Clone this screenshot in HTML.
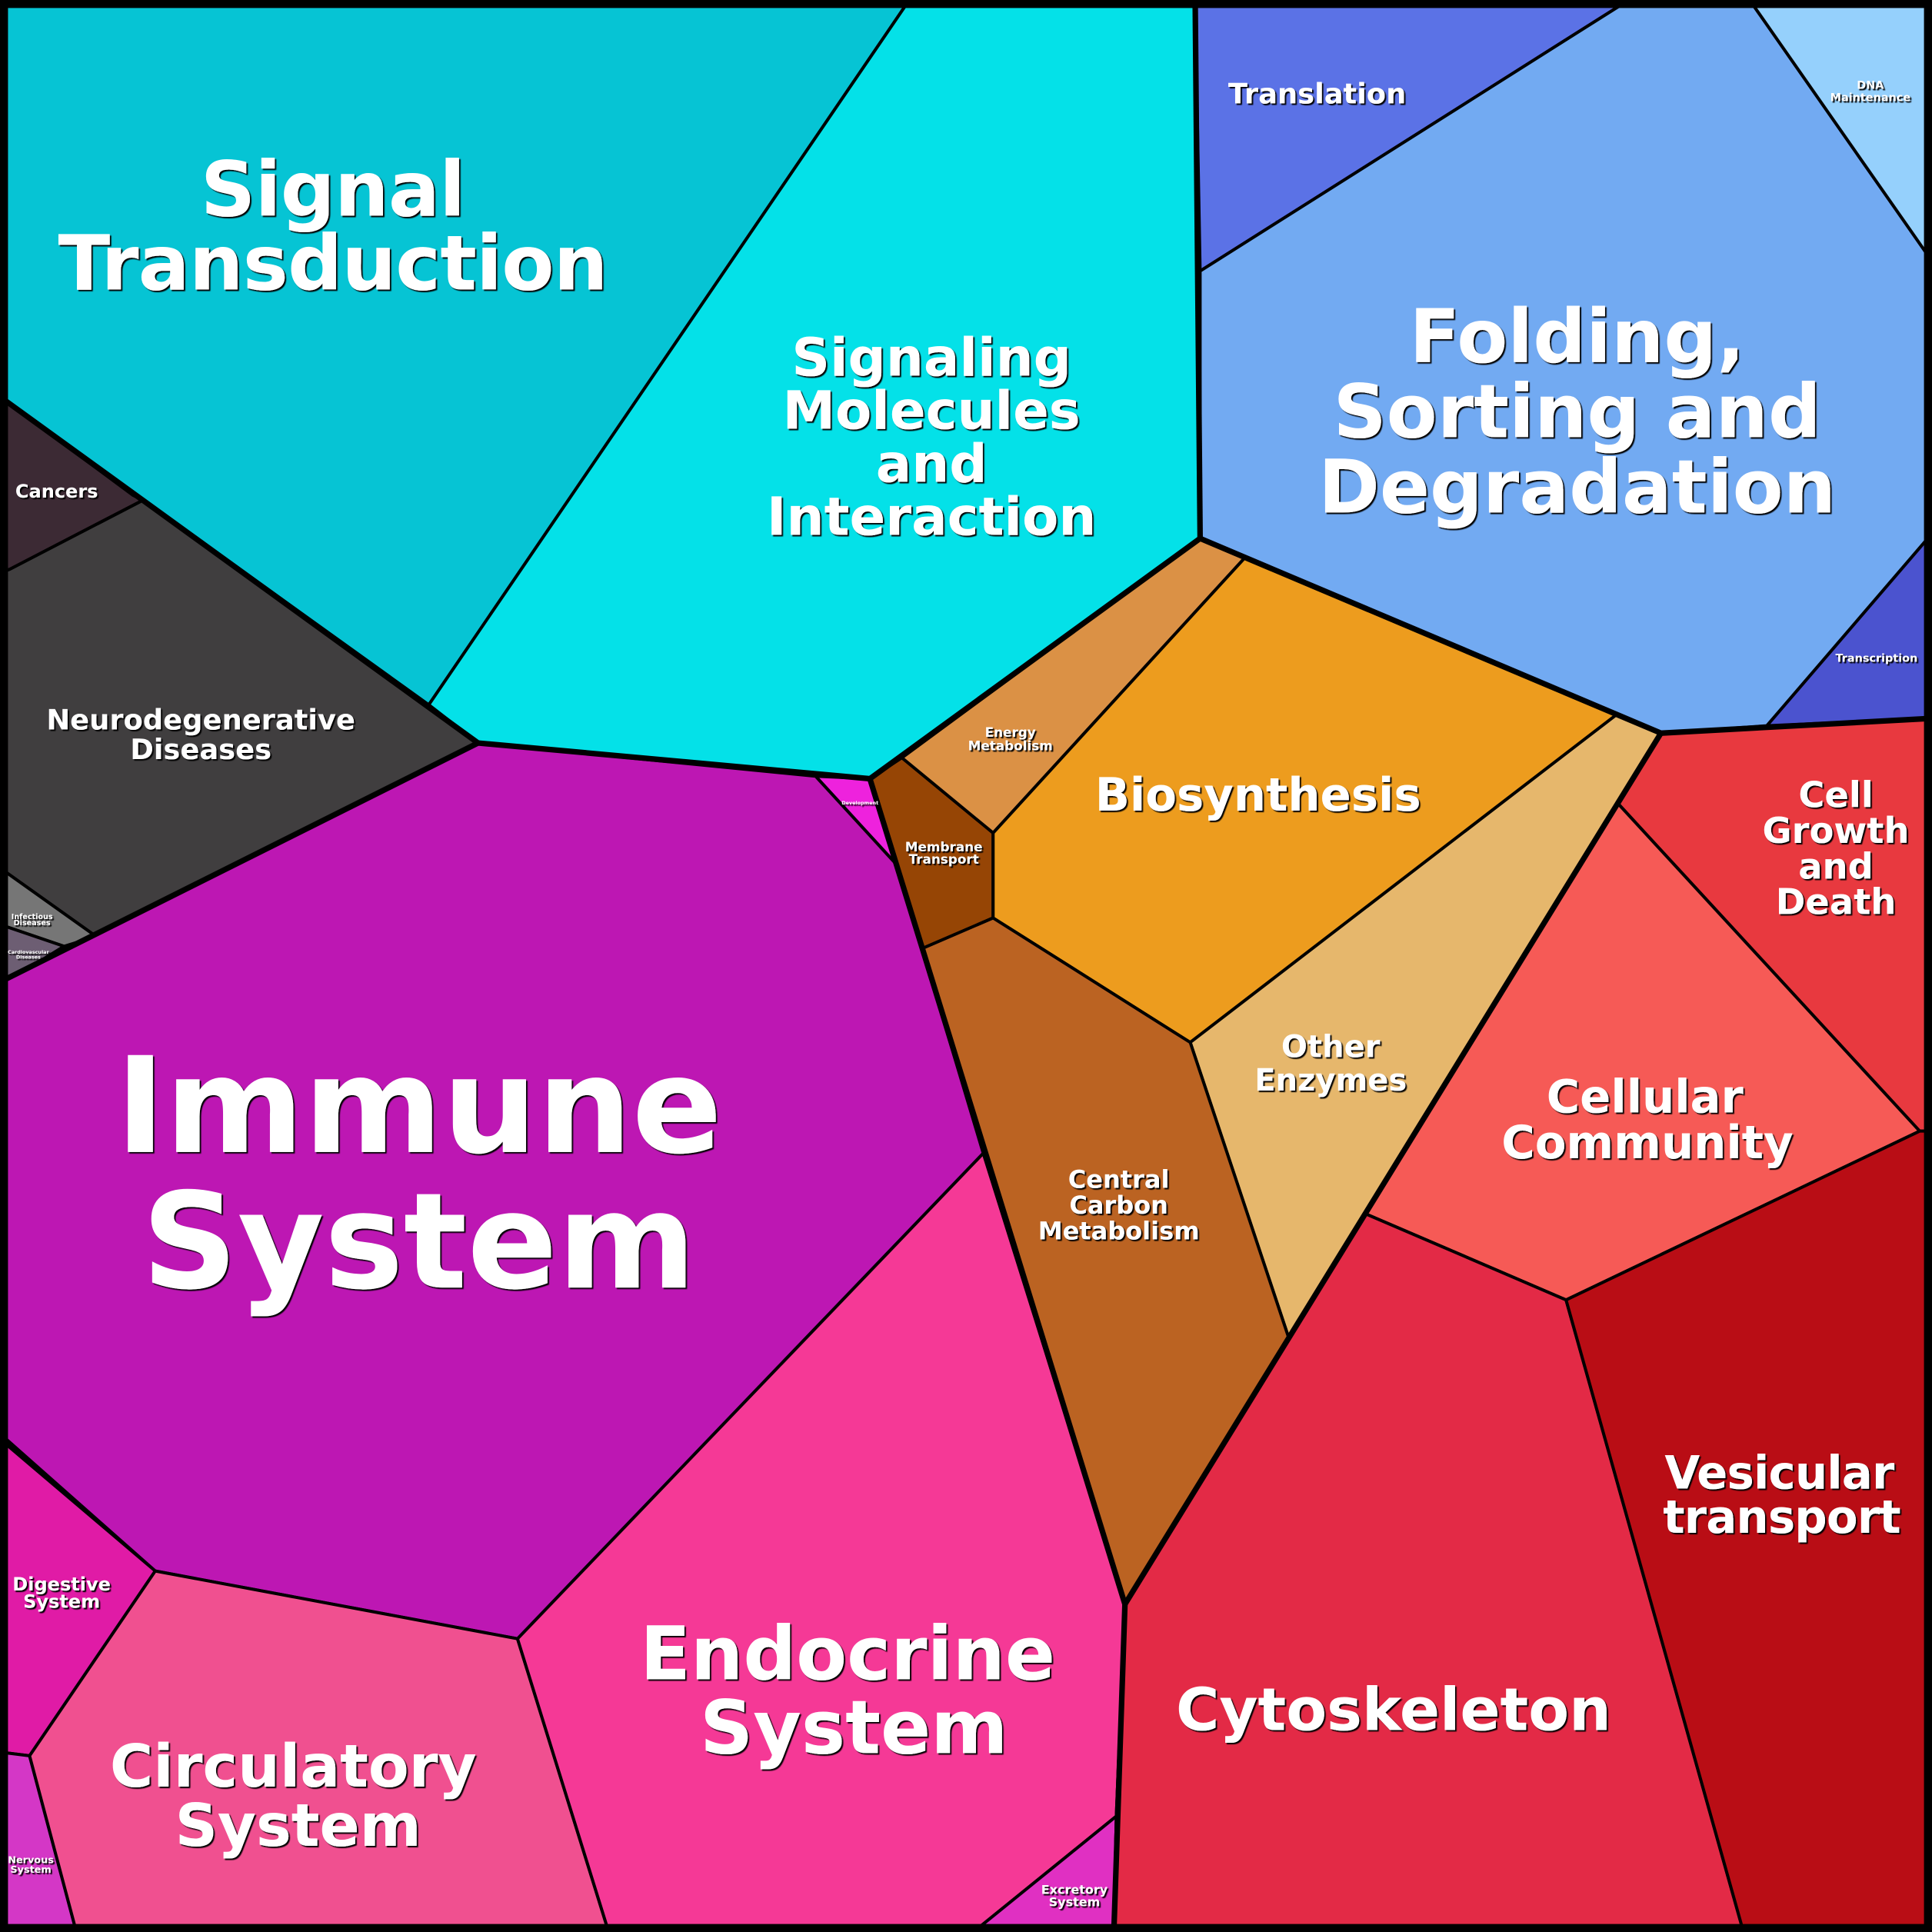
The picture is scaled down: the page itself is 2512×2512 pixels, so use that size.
<!DOCTYPE html>
<html><head><meta charset="utf-8"><style>
html,body{margin:0;padding:0;background:#000;}
svg{display:block;}
text{font-family:"DejaVu Sans","Liberation Sans",sans-serif;font-weight:bold;fill:#fff;text-anchor:middle;}
.s{filter:url(#sh);}
</style></head><body>
<svg width="2512" height="2512" viewBox="0 0 1568 1568" xmlns="http://www.w3.org/2000/svg">
<defs><filter id="sh" x="-10%" y="-10%" width="120%" height="130%"><feDropShadow dx="1.2" dy="1.2" stdDeviation="0.3" flood-color="#000" flood-opacity="1"/></filter></defs>
<g stroke="#000" stroke-width="2.5" stroke-linejoin="round">
<polygon fill="#06c4d4" points="0,0 738,0 348,572 0,322"/>
<polygon fill="#04e1e8" points="738,0 970,0 974,437 706,632 662,630 388,603 348,572"/>
<polygon fill="#3c2a34" points="0,322 108,402 116,406 8,462 0,465"/>
<polygon fill="#403e3f" points="0,465 8,462 116,406 388,603 78,760 5,708"/>
<polygon fill="#767676" points="5,708 78,760 52,768 5,752"/>
<polygon fill="#6d5e73" points="5,752 52,768 5,797"/>
<polygon fill="#bd17b3" points="0,797 388,603 662,630 728,702 798,936 420,1330 126,1275 5,1168"/>
<polygon fill="#ee22dd" points="662,630 706,632 728,702"/>
<polygon fill="#e01ba6" points="0,1168 126,1275 24,1425 0,1422"/>
<polygon fill="#d437c6" points="0,1422 24,1425 62,1568 0,1568"/>
<polygon fill="#f05090" points="24,1425 126,1275 420,1330 494,1568 62,1568"/>
<polygon fill="#f53996" points="420,1330 798,936 913,1302 906,1474 790,1568 494,1568"/>
<polygon fill="#e030c2" points="906,1474 790,1568 904,1568"/>
<polygon fill="#964505" points="706,632 732,615 806,676 806,745 748,770"/>
<polygon fill="#db9145" points="732,615 974,437 1010,453 806,676"/>
<polygon fill="#ed9c1e" points="1010,453 1312,580 966,846 806,745 806,676"/>
<polygon fill="#e6b76c" points="1312,580 1348,595 1046,1086 966,846"/>
<polygon fill="#bb6322" points="748,770 806,745 966,846 1046,1086 913,1302"/>
<polygon fill="#5b72e6" points="970,0 1322,0 974,220"/>
<polygon fill="#72aaf2" points="1322,0 1420,0 1568,212 1568,433 1434,589 1348,595 1010,453 974,437 974,220"/>
<polygon fill="#95d0fc" points="1420,0 1568,0 1568,212"/>
<polygon fill="#4b53cf" points="1568,433 1434,589 1568,583"/>
<polygon fill="#e8393f" points="1348,595 1568,583 1568,918 1558,918 1313,652"/>
<polygon fill="#f65a56" points="1313,652 1558,918 1271,1055 1108,985"/>
<polygon fill="#e32a46" points="1046,1086 1108,985 1271,1055 1415,1568 904,1568 906,1474 913,1302"/>
<polygon fill="#b90d15" points="1271,1055 1558,918 1568,918 1568,1568 1415,1568"/>
</g>
<g stroke="#000" stroke-width="4.5" fill="none" stroke-linejoin="round">
<polyline points="0,322 388,603 0,797"/>
<polyline points="388,603 706,632 974,437 1348,595 1568,583"/>
<polyline points="970,0 974,437"/>
<polyline points="706,632 913,1302 904,1568"/>
<polyline points="1348,595 913,1302"/>
</g>
<rect x="3" y="3" width="1562" height="1562" fill="none" stroke="#000" stroke-width="7"/>
<g class="s">
<text x="270" y="175" font-size="62" letter-spacing="-0.5">Signal</text>
<text x="270" y="235" font-size="62" letter-spacing="-0.5">Transduction</text>
<text x="756" y="305" font-size="43">Signaling</text>
<text x="756" y="348" font-size="43">Molecules</text>
<text x="756" y="391" font-size="43">and</text>
<text x="756" y="434" font-size="43">Interaction</text>
<text x="1069" y="84" font-size="23">Translation</text>
<text x="1280" y="294" font-size="60">Folding,</text>
<text x="1280" y="355" font-size="60">Sorting and</text>
<text x="1280" y="416" font-size="60">Degradation</text>
<text x="1518" y="72" font-size="9" font-weight="normal">DNA</text>
<text x="1518" y="82" font-size="9" font-weight="normal">Maintenance</text>
<text x="1523" y="537" font-size="9" font-weight="normal">Transcription</text>
<text x="46" y="404" font-size="15">Cancers</text>
<text x="163" y="592" font-size="23">Neurodegenerative</text>
<text x="163" y="616" font-size="23">Diseases</text>
<text x="26" y="746" font-size="6">Infectious</text>
<text x="26" y="751" font-size="6">Diseases</text>
<text x="23" y="774" font-size="4">Cardiovascular</text>
<text x="23" y="778" font-size="4">Diseases</text>
<text x="340" y="935" font-size="108">Immune</text>
<text x="340" y="1045" font-size="108">System</text>
<text x="698" y="653" font-size="4" font-weight="normal">Development</text>
<text x="50" y="1291" font-size="15">Digestive</text>
<text x="50" y="1305" font-size="15">System</text>
<text x="25" y="1512" font-size="8">Nervous</text>
<text x="25" y="1520" font-size="8">System</text>
<text x="238" y="1450" font-size="48">Circulatory</text>
<text x="242" y="1498" font-size="48">System</text>
<text x="688" y="1363" font-size="60">Endocrine</text>
<text x="693" y="1423" font-size="60">System</text>
<text x="872" y="1537" font-size="10" font-weight="normal">Excretory</text>
<text x="872" y="1547" font-size="10" font-weight="normal">System</text>
<text x="766" y="691" font-size="10.5">Membrane</text>
<text x="766" y="701" font-size="10.5">Transport</text>
<text x="820" y="598" font-size="10.5">Energy</text>
<text x="820" y="609" font-size="10.5">Metabolism</text>
<text x="1021" y="658" font-size="37">Biosynthesis</text>
<text x="1080" y="858" font-size="25">Other</text>
<text x="1080" y="885" font-size="25">Enzymes</text>
<text x="908" y="964" font-size="20">Central</text>
<text x="908" y="985" font-size="20">Carbon</text>
<text x="908" y="1006" font-size="20">Metabolism</text>
<text x="1490" y="655" font-size="29">Cell</text>
<text x="1490" y="684" font-size="29">Growth</text>
<text x="1490" y="713" font-size="29">and</text>
<text x="1490" y="742" font-size="29">Death</text>
<text x="1335" y="903" font-size="37">Cellular</text>
<text x="1337" y="940" font-size="37">Community</text>
<text x="1444" y="1208" font-size="37" letter-spacing="-0.5">Vesicular</text>
<text x="1446" y="1244" font-size="37" letter-spacing="-0.5">transport</text>
<text x="1131" y="1404" font-size="48">Cytoskeleton</text>
</g>
</svg>
</body></html>
